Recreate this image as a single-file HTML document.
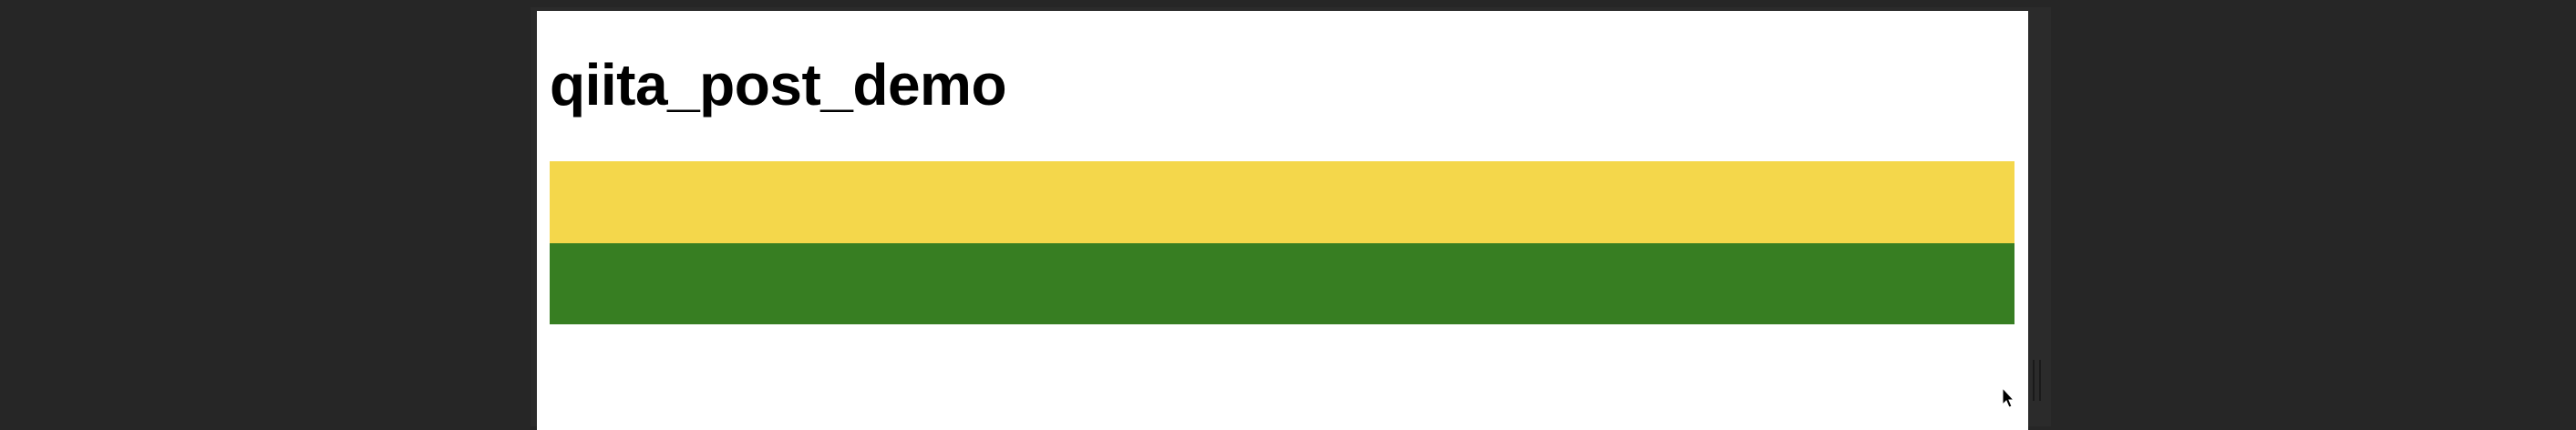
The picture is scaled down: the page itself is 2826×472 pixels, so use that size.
<!DOCTYPE html>
<html><head><meta charset="utf-8"><style>
html,body{margin:0;padding:0;}
body{width:2826px;height:454px;background:#262626;position:relative;overflow:hidden;font-family:"Liberation Sans",Arial,sans-serif;}
#shadow{position:absolute;left:582px;top:8px;width:1668px;height:460px;background:#2b2b2b;}
#panel{position:absolute;left:589px;top:12px;width:1636px;height:460px;background:#fff;}
#title{position:absolute;left:603px;top:56px;margin:0;font-size:64px;font-weight:bold;color:#000;white-space:nowrap;letter-spacing:-0.5px;}
.bar{position:absolute;left:603px;width:1607px;}
#scroll{position:absolute;left:2230px;top:395px;width:5px;height:45px;border-left:2px solid #1a1a1a;border-right:2px solid #1a1a1a;}
</style></head><body>
<div id="shadow"></div>
<div id="panel"></div>
<h1 id="title">qiita_post_demo</h1>
<div id="bars"></div>
<div id="scroll"></div>
<svg style="position:absolute;left:2196px;top:425px" width="16" height="24"><path d="M1 1 L1 19 L5 15 L8 22 L11 21 L8 14 L13 14 Z" fill="#000" stroke="#fff" stroke-width="1"/></svg>
<script>
const barNames=['yellow-bar','green-bar'];
const barColors=['#f4d74b','#377e22'];
const barHeights=[90,89];
const container=document.getElementById('bars');
let y=177;
for(let i=0;i<barNames.length;i++){
  const el=document.createElement('div');
  el.className='bar';
  el.style.top=y+'px';
  el.style.height=barHeights[i]+'px';
  el.style.background=barColors[i];
  
  
  container.appendChild(el);
  y+=barHeights[i];
}
</script>
</body></html>
